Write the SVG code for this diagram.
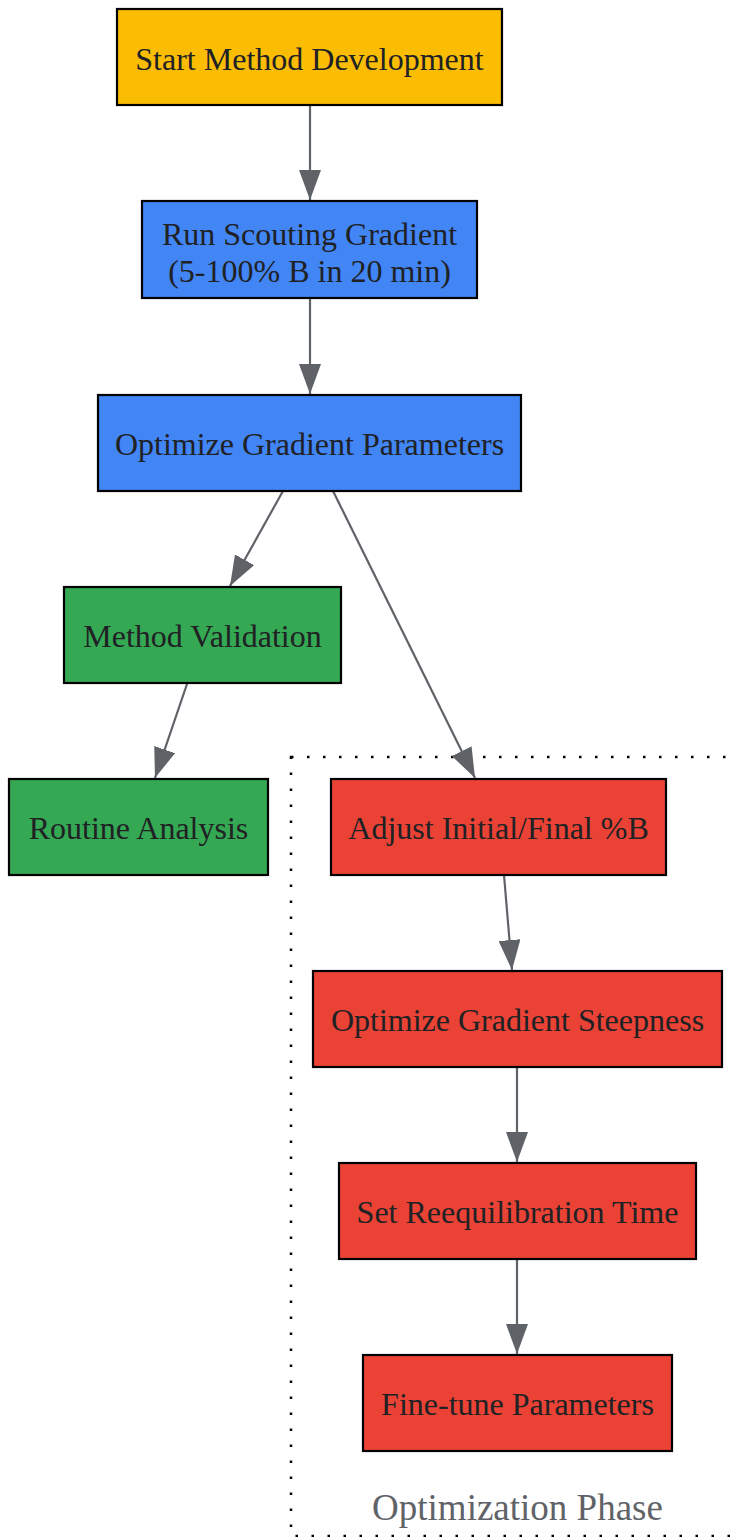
<svg xmlns="http://www.w3.org/2000/svg" width="737" height="1537" viewBox="0 0 737 1537">
<defs>
<style>
.n rect{stroke:#000;stroke-width:2.2}
.n text{font-family:"Liberation Serif","Times New Roman",serif;font-size:32px;fill:#202124;text-anchor:middle}
.y rect{fill:#fbbc04}.b rect{fill:#4285f4}.g rect{fill:#34a853}.r rect{fill:#ea4335}
#edges line{stroke:#5f6368;stroke-width:2.2;marker-end:url(#ah)}
</style>
<marker id="ah" markerUnits="userSpaceOnUse" markerWidth="30" markerHeight="22" refX="30" refY="11" orient="auto" viewBox="0 0 30 22">
<path d="M0,0 L30,11 L0,22 z" fill="#5f6368"/>
</marker>
</defs>
<rect width="737" height="1537" fill="#fff"/>
<g id="cluster">
<rect x="291" y="757" width="470" height="779" fill="none" stroke="#000" stroke-width="2.5" stroke-dasharray="2.5 13.5"/>
<text x="517.5" y="1520" font-family="Liberation Serif,serif" font-size="37" fill="#5f6368" text-anchor="middle">Optimization Phase</text>
</g>
<g id="edges">
<line x1="310" y1="105" x2="310" y2="200"/>
<line x1="310" y1="298" x2="310" y2="394"/>
<line x1="283" y1="491" x2="230" y2="586"/>
<line x1="187" y1="684" x2="155" y2="778"/>
<line x1="333" y1="491" x2="475" y2="778"/>
<line x1="504" y1="875" x2="512" y2="970"/>
<line x1="517" y1="1067" x2="517" y2="1162"/>
<line x1="517" y1="1259" x2="517" y2="1354"/>
</g>
<g id="start" class="n y"><rect x="117" y="9" width="385" height="96"/><text x="309.5" y="69.5">Start Method Development</text></g>
<g id="scout" class="n b"><rect x="142" y="201" width="335" height="97"/><text x="309.5" y="244.5">Run Scouting Gradient</text><text x="309.5" y="281.5">(5-100% B in 20 min)</text></g>
<g id="optimize" class="n b"><rect x="98" y="395" width="423" height="96"/><text x="309.5" y="454.5">Optimize Gradient Parameters</text></g>
<g id="validation" class="n g"><rect x="64" y="587" width="277" height="96"/><text x="202.5" y="646.5">Method Validation</text></g>
<g id="routine" class="n g"><rect x="9" y="779" width="259" height="96"/><text x="138.5" y="838.5">Routine Analysis</text></g>
<g id="adjust" class="n r"><rect x="331" y="779" width="335" height="96"/><text x="498.5" y="838.5">Adjust Initial/Final %B</text></g>
<g id="steepness" class="n r"><rect x="313" y="971" width="409" height="96"/><text x="517.5" y="1030.5">Optimize Gradient Steepness</text></g>
<g id="reequil" class="n r"><rect x="339" y="1163" width="357" height="96"/><text x="517.5" y="1222.5">Set Reequilibration Time</text></g>
<g id="finetune" class="n r"><rect x="363" y="1355" width="309" height="96"/><text x="517.5" y="1414.5">Fine-tune Parameters</text></g>
</svg>
